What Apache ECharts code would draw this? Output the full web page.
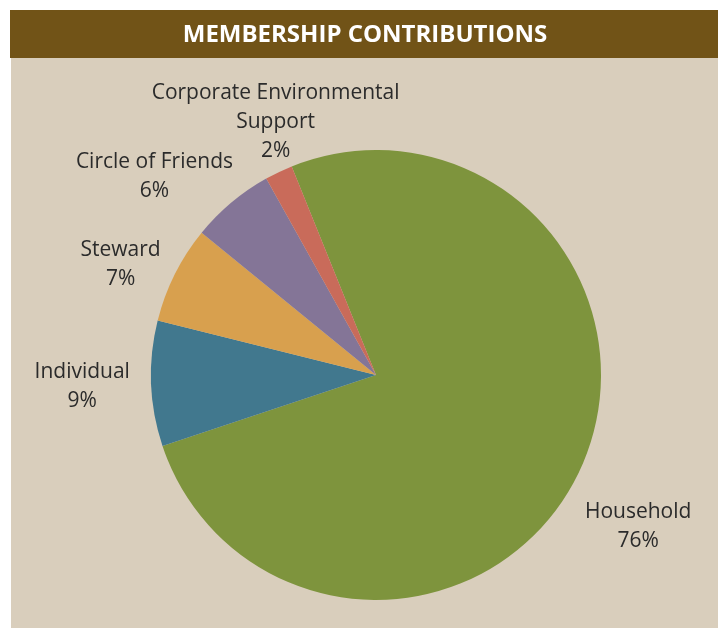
<!DOCTYPE html>
<html><head><meta charset="utf-8">
<script src="https://cdn.jsdelivr.net/npm/echarts@6/dist/echarts.min.js"></script>
<style>html,body{margin:0;padding:0;background:#fff}#c{width:718px;height:628px}</style>
</head><body><div id="c"></div>
<script>
const titleText = 'MEMBERSHIP CONTRIBUTIONS';
const categories = ['Household', 'Individual', 'Steward', 'Circle of Friends', 'Corporate Environmental\nSupport'];
const values = [76, 9, 7, 6, 2];
const colors = ['#7E943D', '#41788E', '#D8A04E', '#847597', '#C96B5A'];
const labelLengths = [77, 83, 55, 73, 49];
const labelNudges = [[-12, 25], [14, 0], [-5, 15], [-30, 30], [18, -6]];

const chart = echarts.init(document.getElementById('c'), null, {renderer: 'canvas'});
chart.setOption({
  backgroundColor: '#ffffff',
  animation: false,
  graphic: [
    {type: 'rect', left: 11, top: 57, shape: {width: 707, height: 571}, style: {fill: '#D9CEBC'}, z: -10},
    {type: 'rect', left: 10, top: 10, shape: {width: 708, height: 48}, style: {fill: '#715317'}, z: -9}
  ],
  title: {
    text: titleText, left: 360, top: 18, textAlign: 'center',
    textStyle: {color: '#ffffff', fontSize: 24, fontWeight: 'bold', fontFamily: 'Open Sans, sans-serif'}
  },
  series: [{
    type: 'pie',
    center: [376, 375],
    radius: 225,
    startAngle: 112,
    clockwise: true,
    avoidLabelOverlap: false,
    emphasis: {disabled: true},
    data: categories.map((n, i) => ({
      name: n, value: values[i],
      itemStyle: {color: colors[i]},
      labelLine: {show: false, length: labelLengths[i], length2: 0}
    })),
    label: {
      show: true, position: 'outside', distanceToLabelLine: 0,
      formatter: p => p.name + '\n' + p.value + '%',
      fontSize: 21, lineHeight: 29, color: '#2b2b2b', fontFamily: 'Open Sans, sans-serif'
    },
    labelLayout: p => ({align: 'center', verticalAlign: 'middle', dx: labelNudges[p.dataIndex][0], dy: labelNudges[p.dataIndex][1]})
  }]
});
</script></body></html>
